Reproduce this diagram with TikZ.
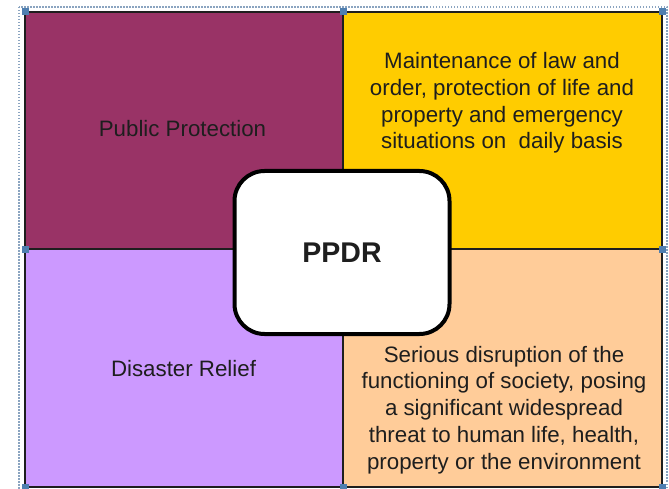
\documentclass[tikz,border=0pt]{standalone}
\usepackage{fontspec}
\setmainfont{Liberation Sans}
\definecolor{plum}{HTML}{993366}
\definecolor{gold}{HTML}{FFCC00}
\definecolor{lilac}{HTML}{CC99FF}
\definecolor{peach}{HTML}{FFCC99}
\definecolor{handle}{HTML}{4F7FB0}
\definecolor{selbord}{HTML}{8AA4C0}
\definecolor{ink}{HTML}{1E1E1E}
\tikzset{
  quad/.style={draw=ink, line width=1.3pt},
  lbl/.style={align=center, text=ink, font=\fontsize{22.3}{26.8}\selectfont, inner sep=0pt},
  hnd/.style={fill=handle, draw=none, minimum size=7pt, inner sep=0pt},
  centerbox/.style={draw=black, line width=4pt, fill=white, rounded corners=30pt,
    minimum width=215pt, minimum height=163pt, font=\fontsize{28.5}{30}\selectfont\bfseries, text=ink}
}
\begin{document}
\begin{tikzpicture}[x=1pt,y=-1pt]
\useasboundingbox (0,0) rectangle (669,489);
\fill[white] (0,0) rectangle (669,489);
% selection border
\draw[selbord, line width=1.5pt, dash pattern=on 1.5pt off 1.5pt] (19,7) rectangle (667,495);
% quadrants
\draw[quad, fill=plum] (25,12) rectangle (343,249);
\draw[quad, fill=gold] (343,12) rectangle (662,249);
\draw[quad, fill=lilac] (25,249) rectangle (343,487);
\draw[quad, fill=peach] (343,249) rectangle (662,487);
% handles
\foreach \p/\n in {{(25,12)}/h1,{(343,12)}/h2,{(662,12)}/h3,{(25,249)}/h4,{(662,249)}/h5,{(25,487)}/h6,{(343,487)}/h7,{(662,487)}/h8}
  \node[hnd] (\n) at \p {};
% texts
\node[lbl] (pp) at (182.5,129) {Public Protection};
\node[lbl] (dr) at (183.5,369) {Disaster Relief};
\node[lbl] (tr) at (502,103) {Maintenance of law and\\order, protection of life and\\property and emergency\\situations on\ \ daily basis};
\node[lbl] (br) at (504,410) {Serious disruption of the\\functioning of society, posing\\a significant widespread\\threat to human life, health,\\property or the environment};
% center
\node[centerbox] (ppdr) at (342,252.5) {PPDR};
\end{tikzpicture}
\end{document}
